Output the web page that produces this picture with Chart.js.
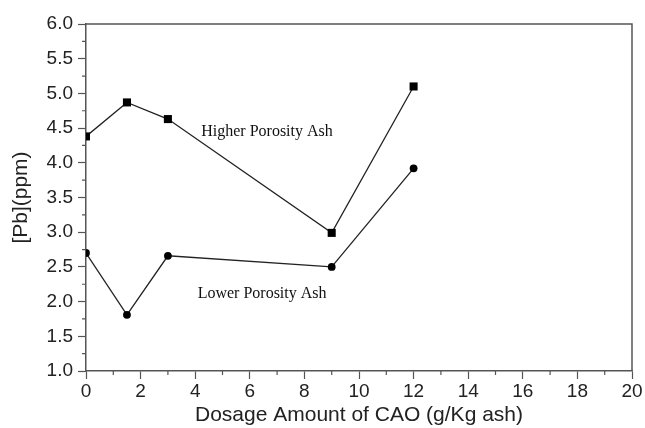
<!DOCTYPE html>
<html lang="en">
<head>
    <meta charset="UTF-8">
    <title>[Pb] vs CAO dosage</title>
    <style>
        body {
            margin: 0;
            background: #fff;
        }
    </style>
</head>
<body>
    <canvas id="pb-chart" width="645" height="428"></canvas>

    <script src="https://cdn.jsdelivr.net/npm/chart.js"></script>
    <script>
        // dosage of CAO (g/Kg ash)
        const dosage = [0, 1.5, 3, 9, 12];
        // [Pb] in ppm
        const higherPorosity = [4.38, 4.87, 4.63, 2.99, 5.10];
        const lowerPorosity = [2.70, 1.81, 2.66, 2.50, 3.92];

        const xTicks = [0, 2, 4, 6, 8, 10, 12, 14, 16, 18, 20];
        const yTicks = [1.0, 1.5, 2.0, 2.5, 3.0, 3.5, 4.0, 4.5, 5.0, 5.5, 6.0];

        // text labels placed in data coordinates
        const seriesLabels = ['Higher Porosity Ash', 'Lower Porosity Ash'];
        const labelX = [6.63, 6.45];
        const labelY = [4.44, 2.11];

        const axisColor = '#555';
        const textColor = '#222';
        const sans = '"Liberation Sans", Arial, sans-serif';

        function toPoints(xs, ys) {
            return xs.map((x, i) => ({ x: x, y: ys[i] }));
        }

        // frame, minor ticks and in-plot text
        const extras = {
            id: 'extras',
            afterDraw(chart) {
                const ctx = chart.ctx;
                const area = chart.chartArea;
                const xs = chart.scales.x;
                const ys = chart.scales.y;
                ctx.save();
                ctx.strokeStyle = axisColor;
                ctx.lineWidth = 1.5;
                ctx.beginPath();
                ctx.moveTo(area.left, area.top);
                ctx.lineTo(area.right, area.top);
                ctx.lineTo(area.right, area.bottom);
                ctx.stroke();

                // minor ticks halfway between major ones
                ctx.lineWidth = 1.2;
                ctx.beginPath();
                for (let i = 0; i < xTicks.length - 1; i++) {
                    const px = xs.getPixelForValue((xTicks[i] + xTicks[i + 1]) / 2);
                    ctx.moveTo(px, area.bottom);
                    ctx.lineTo(px, area.bottom + 4);
                }
                for (let i = 0; i < yTicks.length - 1; i++) {
                    const py = ys.getPixelForValue((yTicks[i] + yTicks[i + 1]) / 2);
                    ctx.moveTo(area.left, py);
                    ctx.lineTo(area.left - 4, py);
                }
                ctx.stroke();

                ctx.fillStyle = '#111';
                ctx.font = '16px "Liberation Serif", serif';
                ctx.textAlign = 'center';
                ctx.textBaseline = 'middle';
                seriesLabels.forEach((txt, i) => {
                    ctx.fillText(txt, xs.getPixelForValue(labelX[i]), ys.getPixelForValue(labelY[i]));
                });
                ctx.restore();
            }
        };

        const ctx = document.getElementById('pb-chart').getContext('2d');
        new Chart(ctx, {
            type: 'scatter',
            data: {
                datasets: [
                    {
                        label: seriesLabels[0],
                        data: toPoints(dosage, higherPorosity),
                        showLine: true,
                        borderColor: '#222',
                        borderWidth: 1.3,
                        backgroundColor: '#000',
                        pointStyle: 'rect',
                        pointRadius: 5.7,
                        pointBorderWidth: 0
                    },
                    {
                        label: seriesLabels[1],
                        data: toPoints(dosage, lowerPorosity),
                        showLine: true,
                        borderColor: '#222',
                        borderWidth: 1.3,
                        backgroundColor: '#000',
                        pointStyle: 'circle',
                        pointRadius: 3.9,
                        pointBorderWidth: 0
                    }
                ]
            },
            options: {
                responsive: false,
                animation: false,
                layout: {
                    padding: { top: 24, right: 13, left: 0, bottom: 0 }
                },
                plugins: {
                    legend: { display: false },
                    tooltip: { enabled: false }
                },
                scales: {
                    x: {
                        type: 'linear',
                        min: 0,
                        max: 20,
                        afterBuildTicks(scale) {
                            scale.ticks = xTicks.map(v => ({ value: v }));
                        },
                        afterFit(scale) {
                            scale.height = 57;
                        },
                        grid: {
                            drawOnChartArea: false,
                            tickLength: 8,
                            tickColor: axisColor,
                            tickWidth: 1.2
                        },
                        border: { color: axisColor, width: 1.5 },
                        ticks: {
                            color: textColor,
                            padding: 1,
                            autoSkip: false,
                            maxRotation: 0,
                            minRotation: 0,
                            font: { family: sans, size: 19 },
                            callback: v => String(v)
                        },
                        title: {
                            display: true,
                            text: 'Dosage Amount of CAO (g/Kg ash)',
                            color: textColor,
                            padding: { top: 0, bottom: 0 },
                            font: { family: sans, size: 21 }
                        }
                    },
                    y: {
                        type: 'linear',
                        min: 1,
                        max: 6,
                        afterBuildTicks(scale) {
                            scale.ticks = yTicks.map(v => ({ value: v }));
                        },
                        afterFit(scale) {
                            scale.width = 86;
                        },
                        grid: {
                            drawOnChartArea: false,
                            tickLength: 8,
                            tickColor: axisColor,
                            tickWidth: 1.2
                        },
                        border: { color: axisColor, width: 1.5 },
                        ticks: {
                            color: textColor,
                            padding: 5,
                            autoSkip: false,
                            font: { family: sans, size: 19 },
                            callback: v => Number(v).toFixed(1)
                        },
                        title: {
                            display: true,
                            text: '[Pb](ppm)',
                            color: textColor,
                            padding: { top: 9, bottom: 0 },
                            font: { family: sans, size: 21 }
                        }
                    }
                }
            },
            plugins: [extras]
        });
    </script>
</body>
</html>
